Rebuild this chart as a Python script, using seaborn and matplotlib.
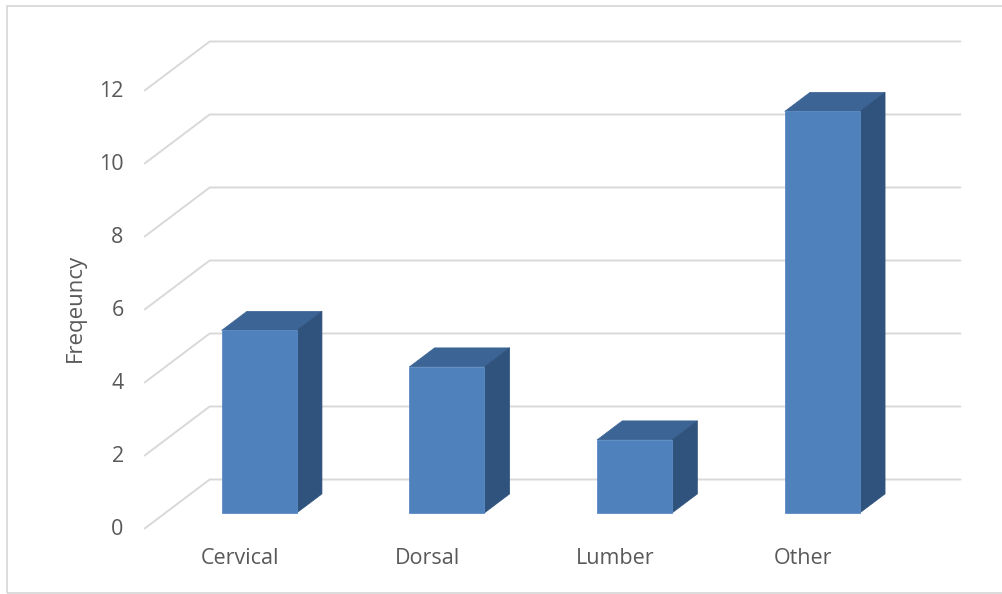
import matplotlib
matplotlib.use("Agg")
import matplotlib.pyplot as plt
import seaborn as sns
import pandas as pd
from matplotlib.patches import Polygon, Rectangle
from matplotlib.lines import Line2D

categories = ["Cervical", "Dorsal", "Lumber", "Other"]
values = [5, 4, 2, 11]
y_ticks = [0, 2, 4, 6, 8, 10, 12]
y_label = "Freqeuncy"

FRONT = "#4F81BD"
TOP = "#3C6494"
SIDE = "#30537E"
GRID = "#D9D9D9"
TEXT = "#595959"

sns.set_theme(style="white")
plt.rcParams["font.family"] = ["Open Sans", "DejaVu Sans"]

W, H, DPI = 1003, 594, 100
fig = plt.figure(figsize=(W / DPI, H / DPI), dpi=DPI)
ax = fig.add_axes([0, 0, 1, 1])

df = pd.DataFrame({"cat": categories, "val": values})
sns.barplot(data=df, x="cat", y="val", color=FRONT, saturation=1, width=0.4,
            ax=ax, zorder=3, edgecolor="#5B8BC4", linewidth=0.6)

# pixel-based limits (bar front frame)
X0, SX = 259.2, 187.7
Y0, SY = 512.9, 36.5
ax.set_xlim((0 - X0) / SX, (W - X0) / SX)
ax.set_ylim((Y0 - H) / SY, Y0 / SY)
ax.set_axis_off()

# depth projection
DX, DY = 65 / SX, 49 / SY
D1, D2 = 0.318, 0.706


def P(x, v, d):
    return (x + (d - D1) * DX, v + (d - D1) * DY)


n = len(categories)
FS = 15.5
# gridlines: side wall diagonals + back wall
for t in y_ticks:
    a = P(-0.5, t, 0)
    b = P(-0.5, t, 1)
    c = P(n - 0.5, t, 1)
    ax.add_line(Line2D([a[0], b[0], c[0]], [a[1], b[1], c[1]], color=GRID,
                       lw=1.4, zorder=1, solid_joinstyle="miter"))
    ax.annotate(str(t), xy=a, xytext=(-21, -1), textcoords="offset pixels",
                ha="right", va="center", fontsize=FS, color=TEXT)

# 3D faces from bars
for p in ax.patches[:]:
    if not isinstance(p, Rectangle):
        continue
    x0 = p.get_x()
    w = p.get_width()
    h = p.get_height()
    x1 = x0 + w
    top = [(x0, h), (x1, h),
           (x1 + (D2 - D1) * DX, h + (D2 - D1) * DY),
           (x0 + (D2 - D1) * DX, h + (D2 - D1) * DY)]
    side = [(x1, 0), (x1, h),
            (x1 + (D2 - D1) * DX, h + (D2 - D1) * DY),
            (x1 + (D2 - D1) * DX, (D2 - D1) * DY)]
    ax.add_patch(Polygon(top, closed=True, facecolor=TOP, edgecolor=TOP,
                         lw=0.5, zorder=2.9))
    ax.add_patch(Polygon(side, closed=True, facecolor=SIDE, edgecolor=SIDE,
                         lw=0.5, zorder=2.9))

# category labels
for i, c in enumerate(categories):
    ax.annotate(c, xy=P(i, 0, 0), xytext=(1.5, -30), textcoords="offset pixels",
                ha="center", va="center", fontsize=FS, color=TEXT)

fig.text(75 / W, 1 - 308 / H, y_label, rotation=90, ha="center", va="center",
         fontsize=FS + 0.5, color=TEXT)

# chart border
fig.patches.append(Rectangle((7 / W, 1.3 / H), 1.05, (592.7 - 5.5) / H,
                             transform=fig.transFigure, fill=False,
                             edgecolor=GRID, lw=1.3, zorder=0))

fig.savefig("out.png", dpi=DPI)
